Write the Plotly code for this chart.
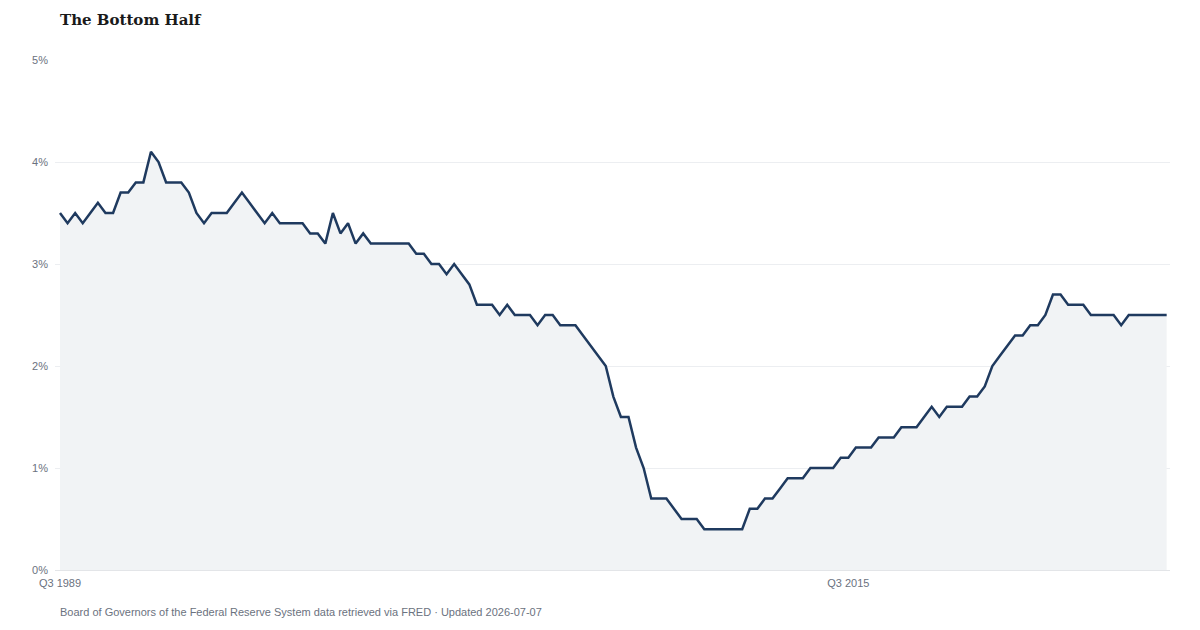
import plotly.graph_objects as go

# Share of net worth held by the bottom 50%, quarterly, Q3 1989 - Q1 2026
start_year = 1989
start_quarter = 3
share_pct = [
    3.5, 3.4, 3.5, 3.4, 3.5, 3.6, 3.5, 3.5, 3.7, 3.7,
    3.8, 3.8, 4.1, 4.0, 3.8, 3.8, 3.8, 3.7, 3.5, 3.4,
    3.5, 3.5, 3.5, 3.6, 3.7, 3.6, 3.5, 3.4, 3.5, 3.4,
    3.4, 3.4, 3.4, 3.3, 3.3, 3.2, 3.5, 3.3, 3.4, 3.2,
    3.3, 3.2, 3.2, 3.2, 3.2, 3.2, 3.2, 3.1, 3.1, 3.0,
    3.0, 2.9, 3.0, 2.9, 2.8, 2.6, 2.6, 2.6, 2.5, 2.6,
    2.5, 2.5, 2.5, 2.4, 2.5, 2.5, 2.4, 2.4, 2.4, 2.3,
    2.2, 2.1, 2.0, 1.7, 1.5, 1.5, 1.2, 1.0, 0.7, 0.7,
    0.7, 0.6, 0.5, 0.5, 0.5, 0.4, 0.4, 0.4, 0.4, 0.4,
    0.4, 0.6, 0.6, 0.7, 0.7, 0.8, 0.9, 0.9, 0.9, 1.0,
    1.0, 1.0, 1.0, 1.1, 1.1, 1.2, 1.2, 1.2, 1.3, 1.3,
    1.3, 1.4, 1.4, 1.4, 1.5, 1.6, 1.5, 1.6, 1.6, 1.6,
    1.7, 1.7, 1.8, 2.0, 2.1, 2.2, 2.3, 2.3, 2.4, 2.4,
    2.5, 2.7, 2.7, 2.6, 2.6, 2.6, 2.5, 2.5, 2.5, 2.5,
    2.4, 2.5, 2.5, 2.5, 2.5, 2.5, 2.5,
]

quarters = []
for i in range(len(share_pct)):
    q = (start_quarter - 1 + i) % 4 + 1
    y = start_year + (start_quarter - 1 + i) // 4
    quarters.append(f"Q{q} {y}")

x_ticks = ["Q3 1989", "Q3 2015"]
y_ticks = [0, 1, 2, 3, 4, 5]
y_tick_text = ["0%", "1%", "2%", "3%", "4%", "5%"]

colors = {
    "line": "#1f3a5f",
    "fill": "#f1f3f5",
    "grid": "#eceef1",
    "tick": "#6b7280",
    "title": "#1a1a1a",
}

fig = go.Figure()

fig.add_trace(
    go.Scatter(
        x=quarters,
        y=share_pct,
        mode="lines",
        line=dict(color=colors["line"], width=2.5),
        fill="tozeroy",
        fillcolor=colors["fill"],
        showlegend=False,
    )
)

fig.update_layout(
    width=1200,
    height=630,
    plot_bgcolor="white",
    paper_bgcolor="white",
    margin=dict(l=55, r=30, t=60, b=60),
    font=dict(family="Liberation Sans, Arial, sans-serif", color=colors["tick"], size=11),
    title=dict(
        text="<b>The Bottom Half</b>",
        xref="container",
        yref="container",
        x=60 / 1200,
        xanchor="left",
        y=1 - 20 / 630,
        yanchor="middle",
        font=dict(family="DejaVu Serif, Georgia, serif", size=15, color=colors["title"]),
    ),
    annotations=[
        dict(
            text="Board of Governors of the Federal Reserve System data retrieved via FRED · Updated 2026-07-07",
            xref="paper",
            yref="paper",
            x=3 / 1115,
            y=-42 / 510,
            xanchor="left",
            yanchor="middle",
            showarrow=False,
            font=dict(size=11, color=colors["tick"]),
        )
    ],
)

fig.update_xaxes(
    type="category",
    range=[-0.66, len(share_pct) - 1 + 0.44],
    tickmode="array",
    tickvals=x_ticks,
    ticktext=x_ticks,
    showgrid=False,
    showline=True,
    linecolor="#e3e5e8",
    linewidth=1,
    ticks="",
    ticklabelstandoff=3,
    tickfont=dict(size=11, color=colors["tick"]),
)

fig.update_yaxes(
    range=[0, 5],
    tickmode="array",
    tickvals=y_ticks,
    ticktext=y_tick_text,
    showgrid=True,
    gridcolor=colors["grid"],
    gridwidth=1,
    zeroline=False,
    ticks="",
    ticklabelstandoff=6,
    tickfont=dict(size=11, color=colors["tick"]),
)

# page has a default 8px body margin; drop it so the figure sits at 0,0
fig.write_html(
    "out.html",
    config={"displayModeBar": False},
    post_script="document.body.style.margin='0';",
)
